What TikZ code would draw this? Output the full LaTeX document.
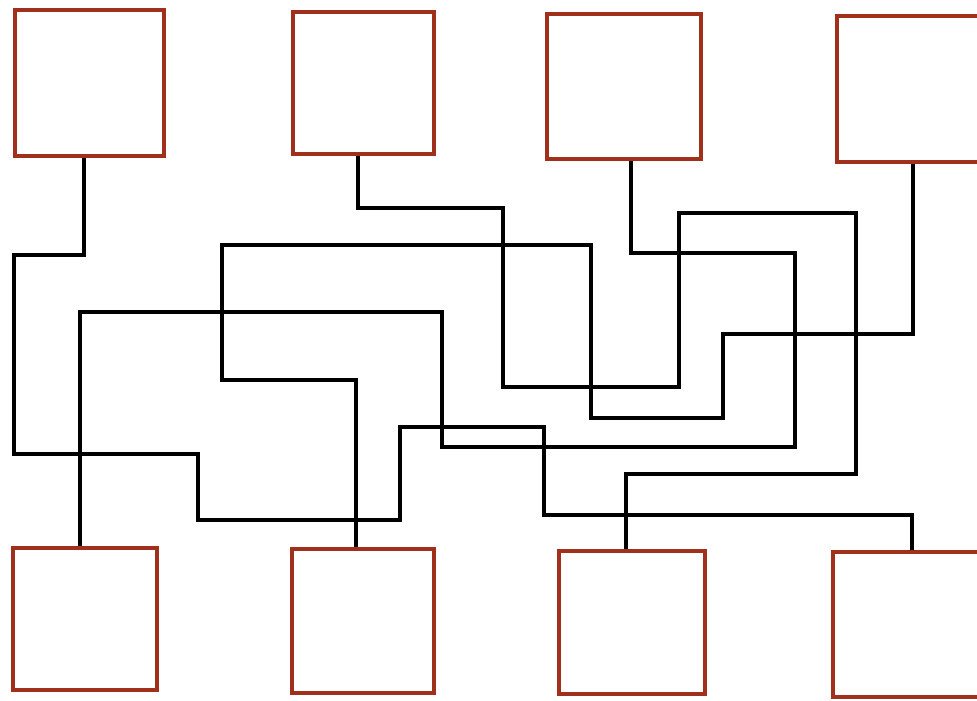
\documentclass[tikz,border=0pt]{standalone}
\usetikzlibrary{calc}
\definecolor{boxred}{RGB}{160,48,28}
\begin{document}
\begin{tikzpicture}[x=1pt,y=-1pt,
  boxnode/.style={draw=boxred,line width=3.2pt,fill=white,rectangle,inner sep=0pt,minimum width=#1},
  wire/.style={draw=black,line width=4pt,line join=miter}]
\useasboundingbox (0,0) rectangle (977,701);
% top row
\node[boxnode=149pt,minimum height=146pt] (T1) at (89.5,83) {};
\node[boxnode=141pt,minimum height=142pt] (T2) at (363.5,83) {};
\node[boxnode=154pt,minimum height=145pt] (T3) at (624,86.5) {};
\node[boxnode=142pt,minimum height=146pt] (T4) at (908,89) {};
% bottom row
\node[boxnode=144pt,minimum height=142pt] (B1) at (85,619) {};
\node[boxnode=142pt,minimum height=144pt] (B2) at (363,621) {};
\node[boxnode=146pt,minimum height=143pt] (B3) at (632,622.5) {};
\node[boxnode=146pt,minimum height=145pt] (B4) at (906,624.5) {};
% connectors
\draw[wire] ([xshift=-5.5pt]T1.south) |- (14,255) |- (198,454) |- (400,520) |- (544,427) |- (912,515) -- ([xshift=6pt]B4.north);
\draw[wire] ([xshift=-5.5pt]T2.south) |- (503,208) |- (679,387) |- (856,213) |- (626,474) -- ([xshift=-6pt]B3.north);
\draw[wire] ([xshift=7pt]T3.south) |- (795,253) |- (442,447) |- (80,312) -- ([xshift=-5pt]B1.north);
\draw[wire] ([xshift=5pt]T4.south) |- (723,334) |- (591,418) |- (222,245) |- (356,380) -- ([xshift=-7pt]B2.north);
\end{tikzpicture}
\end{document}
